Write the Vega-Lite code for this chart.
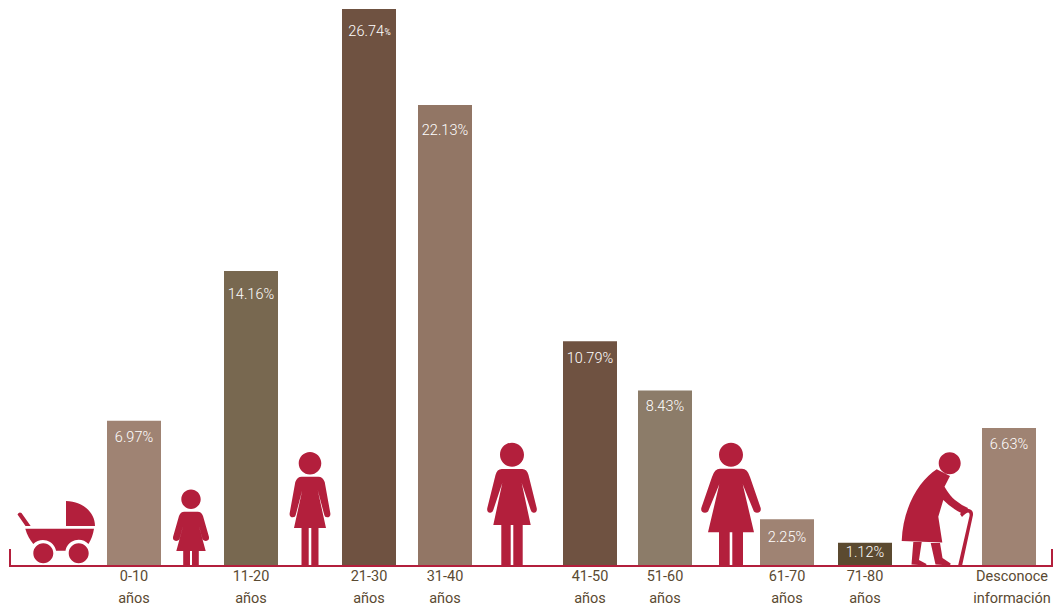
{"$schema":"https://vega.github.io/schema/vega-lite/v6.json","width":1059,"height":610,"autosize":{"type":"fit","contains":"padding"},"padding":0,"background":"white","view":{"stroke":null},"datasets":{"barras":[{"orden":1,"rango":"0-10\naños","pct":6.97,"numero":"6.97","texto":"6.97%"},{"orden":3,"rango":"11-20\naños","pct":14.16,"numero":"14.16","texto":"14.16%"},{"orden":5,"rango":"21-30\naños","pct":26.74,"numero":"26.74","texto":"26.74%"},{"orden":6,"rango":"31-40\naños","pct":22.13,"numero":"22.13","texto":"22.13%"},{"orden":8,"rango":"41-50\naños","pct":10.79,"numero":"10.79","texto":"10.79%"},{"orden":9,"rango":"51-60\naños","pct":8.43,"numero":"8.43","texto":"8.43%"},{"orden":11,"rango":"61-70\naños","pct":2.25,"numero":"2.25","texto":"2.25%"},{"orden":12,"rango":"71-80\naños","pct":1.12,"numero":"1.12","texto":"1.12%"},{"orden":14,"rango":"Desconoce\ninformación","pct":6.63,"numero":"6.63","texto":"6.63%"}],"iconos":[{"orden":0,"figura":"bebé"},{"orden":2,"figura":"niña"},{"orden":4,"figura":"joven"},{"orden":7,"figura":"adulta"},{"orden":10,"figura":"madura"},{"orden":13,"figura":"anciana"}],"eje":[{"orden":-1,"v":0.82,"paso":0},{"orden":-1,"v":0,"paso":1},{"orden":15,"v":0,"paso":2},{"orden":15,"v":0.82,"paso":3}]},"encoding":{"x":{"field":"orden","type":"quantitative","axis":null,"scale":{"domain":[-1,0,1,2,3,4,5,6,7,8,9,10,11,12,13,14,15],"range":[10,57,134,191,251,310,369,445,512,590,665,731,787,865,935,1009,1052],"nice":false,"zero":false,"padding":0}}},"layer":[{"data":{"name":"barras"},"mark":{"type":"bar","width":54},"encoding":{"y":{"field":"pct","type":"quantitative","axis":null,"scale":{"domain":[-2.112,27.17],"nice":false,"zero":false}},"color":{"field":"rango","type":"nominal","legend":null,"scale":{"domain":["0-10\naños","11-20\naños","21-30\naños","31-40\naños","41-50\naños","51-60\naños","61-70\naños","71-80\naños","Desconoce\ninformación"],"range":["#9f8373","#786850","#6f5241","#927665","#6f5241","#8c7c69","#9f8373","#5b4a30","#9f8373"]}}}},{"data":{"name":"eje"},"mark":{"type":"line","color":"#b31f3c","strokeWidth":2,"interpolate":"linear"},"encoding":{"y":{"field":"v","type":"quantitative"},"order":{"field":"paso","type":"quantitative"}}},{"data":{"name":"iconos"},"mark":{"type":"point","filled":true,"size":4,"color":"#b31f3c","opacity":1,"strokeWidth":0},"encoding":{"y":{"datum":0,"type":"quantitative"},"shape":{"field":"figura","type":"nominal","legend":null,"scale":{"domain":["bebé","niña","joven","adulta","madura","anciana"],"range":["M9,-65C25,-65 38,-54 38,-40L9,-40ZM-39.5,-51.5Q-38,-54.5 -35.5,-53L-26.3,-40L-31.5,-40ZM-31.7,-37.3L37,-37.3C36,-31 34,-26 31.5,-22A13.5,13.5 0 0 0 8.5,-15.3L-0.9,-15.3A13.5,13.5 0 0 0 -23.7,-22C-27,-26 -30,-31 -31.7,-37.3ZM-23.7,-12.7A10,10 0 1 0 -3.7,-12.7A10,10 0 1 0 -23.7,-12.7ZM11.7,-12.7A10,10 0 1 0 31.7,-12.7A10,10 0 1 0 11.7,-12.7Z","M-9.7,-66.7A9.7,9.7 0 1 0 9.7,-66.7A9.7,9.7 0 1 0 -9.7,-66.7ZM-6.7,-54.3L6.7,-54.3Q10.5,-54.3 12,-50L18,-29Q18.5,-25.5 15,-25Q12,-25 11.3,-27.7L7,-43.3L14.7,-15L7.8,-15L7.8,0L1,0L1,-15L-1,-15L-1,0L-7.8,0L-7.8,-15L-14.7,-15L-7,-43.3L-11.3,-27.7Q-12,-25 -15,-25Q-18.5,-25.5 -18,-29L-12,-50Q-10.5,-54.3 -6.7,-54.3Z","M-11.3,-102.7A11.3,11.3 0 1 0 11.3,-102.7A11.3,11.3 0 1 0 -11.3,-102.7ZM-8.3,-89.3L8.3,-89.3Q12.7,-89.3 14.7,-84L20.3,-53Q21,-48.7 17,-48.7Q14.7,-48.7 14.3,-51L7.7,-76L16,-38L8.5,-38L8.5,0L1.3,0L1.3,-38L-1.3,-38L-1.3,0L-8.5,0L-8.5,-38L-16,-38L-7.7,-76L-14.3,-51Q-14.7,-48.7 -17,-48.7Q-21,-48.7 -20.3,-53L-14.7,-84Q-12.7,-89.3 -8.3,-89.3Z","M-12,-111.3A12,12 0 1 0 12,-111.3A12,12 0 1 0 -12,-111.3ZM-10.3,-97L10.3,-97Q15,-97 16.5,-91L24.7,-58Q25.5,-53.5 22,-53.3Q19.5,-53 18.7,-56L9.7,-83L18.7,-41L10.7,-41L10.7,0L1.3,0L1.3,-41L-1.3,-41L-1.3,0L-10.7,0L-10.7,-41L-18.7,-41L-9.7,-83L-18.7,-56Q-19.5,-53 -22,-53.3Q-25.5,-53.5 -24.7,-58L-16.5,-91Q-15,-97 -10.3,-97Z","M-12,-111.3A12,12 0 1 0 12,-111.3A12,12 0 1 0 -12,-111.3ZM-11,-97.3L11,-97.3Q16.5,-97.3 19,-89L29.7,-58Q30.5,-53.3 26,-53.3Q23,-53.3 22.3,-56L11.7,-81.7L23,-33.7L12,-33.7L12,0L1.3,0L1.3,-33.7L-1.3,-33.7L-1.3,0L-12,0L-12,-33.7L-23,-33.7L-11.7,-81.7L-22.3,-56Q-23,-53.3 -26,-53.3Q-30.5,-53.3 -29.7,-58L-19,-89Q-16.5,-97.3 -11,-97.3Z","M3.7,-102.7A11,11 0 1 0 25.7,-102.7A11,11 0 1 0 3.7,-102.7ZM1.7,-96.7L15,-90L9.5,-79.3Q15,-70 20,-66Q26,-61 33,-58L30,-54L26.7,-52.7Q16,-58 8.3,-66L3.3,-49.3L7.3,-23.5L-33.3,-25C-32,-60 -15,-86 1.7,-96.7ZM-21.7,-24L-13.3,-24L-16,-6L-8.5,-2L-9,-0.5L-23.5,-1.5ZM-4.3,-23L5,-23L7.5,-8L15.7,-2.5L15,-0.5L0.5,-1.5ZM25,-52Q30,-58 34,-57Q38.5,-56 38,-51L27,0L23,0L34.5,-50Q35,-53.5 33,-53.5Q30.5,-53 27,-49Z"]}}}},{"data":{"name":"barras"},"transform":[{"filter":{"field":"orden","oneOf":[1,3,5,6,8,9,11,12]}}],"mark":{"type":"text","baseline":"top","align":"center","lineBreak":"\n","lineHeight":22,"font":"Roboto","fontSize":14.5,"color":"#5a4a32","dy":4},"encoding":{"y":{"datum":0,"type":"quantitative"},"text":{"field":"rango","type":"nominal"}}},{"data":{"name":"barras"},"transform":[{"filter":{"field":"orden","equal":14}}],"mark":{"type":"text","baseline":"top","align":"center","lineBreak":"\n","lineHeight":22,"font":"Roboto","fontSize":14.5,"color":"#5a4a32","dy":4,"dx":3},"encoding":{"y":{"datum":0,"type":"quantitative"},"text":{"field":"rango","type":"nominal"}}},{"data":{"name":"barras"},"transform":[{"filter":{"field":"pct","equal":26.74}}],"mark":{"type":"text","baseline":"middle","align":"right","font":"Roboto","fontWeight":300,"fontSize":14.5,"color":"#ffffff","dy":23,"dx":15},"encoding":{"y":{"field":"pct","type":"quantitative"},"text":{"field":"numero","type":"nominal"}}},{"data":{"name":"barras"},"transform":[{"filter":{"field":"pct","equal":26.74}}],"mark":{"type":"text","baseline":"middle","align":"left","font":"Roboto","fontSize":8.5,"color":"#ffffff","dy":23,"dx":15.5,"text":"%"},"encoding":{"y":{"field":"pct","type":"quantitative"}}},{"data":{"name":"barras"},"transform":[{"filter":{"field":"pct","equal":14.16}}],"mark":{"type":"text","baseline":"middle","align":"center","font":"Roboto","fontWeight":300,"fontSize":14.5,"color":"#ffffff","dy":24},"encoding":{"y":{"field":"pct","type":"quantitative"},"text":{"field":"texto","type":"nominal"}}},{"data":{"name":"barras"},"transform":[{"filter":{"field":"pct","oneOf":[22.13]}}],"mark":{"type":"text","baseline":"middle","align":"center","font":"Roboto","fontWeight":300,"fontSize":14.5,"color":"#ffffff","dy":26},"encoding":{"y":{"field":"pct","type":"quantitative"},"text":{"field":"texto","type":"nominal"}}},{"data":{"name":"barras"},"transform":[{"filter":{"field":"pct","oneOf":[10.79]}}],"mark":{"type":"text","baseline":"middle","align":"center","font":"Roboto","fontWeight":300,"fontSize":14.5,"color":"#ffffff","dy":18},"encoding":{"y":{"field":"pct","type":"quantitative"},"text":{"field":"texto","type":"nominal"}}},{"data":{"name":"barras"},"transform":[{"filter":{"field":"pct","oneOf":[2.25]}}],"mark":{"type":"text","baseline":"middle","align":"center","font":"Roboto","fontWeight":300,"fontSize":14.5,"color":"#ffffff","dy":18.5},"encoding":{"y":{"field":"pct","type":"quantitative"},"text":{"field":"texto","type":"nominal"}}},{"data":{"name":"barras"},"transform":[{"filter":{"field":"pct","oneOf":[6.97,6.63,8.43]}}],"mark":{"type":"text","baseline":"middle","align":"center","font":"Roboto","fontWeight":300,"fontSize":14.5,"color":"#ffffff","dy":17},"encoding":{"y":{"field":"pct","type":"quantitative"},"text":{"field":"texto","type":"nominal"}}},{"data":{"name":"barras"},"transform":[{"filter":{"field":"pct","oneOf":[1.12]}}],"mark":{"type":"text","baseline":"middle","align":"center","font":"Roboto","fontWeight":300,"fontSize":14.5,"color":"#ffffff","dy":10},"encoding":{"y":{"field":"pct","type":"quantitative"},"text":{"field":"texto","type":"nominal"}}}]}
